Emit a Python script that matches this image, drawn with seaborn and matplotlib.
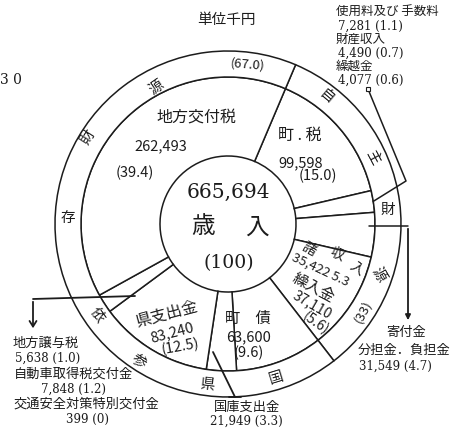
import numpy as np
import pandas as pd
import matplotlib
matplotlib.use("Agg")
import matplotlib.pyplot as plt
import seaborn as sns

# 歳入内訳 (単位千円), 上の境界から時計回り
items = ['町税', '使用料及び手数料', '財産収入', '繰越金', '寄付金', '分担金・負担金',
         '諸収入', '繰入金', '町債', '国庫支出金', '県支出金', '地方譲与税',
         '自動車取得税交付金', '交通安全対策特別交付金', '地方交付税']
amounts = [99598, 7281, 4490, 4077, 1000, 31549,
           35422, 37110, 63600, 21949, 83240, 5638,
           7848, 399, 262493]
pct_text = ['15.0', '1.1', '0.7', '0.6', '', '4.7',
            '5.3', '5.6', '9.6', '3.3', '12.5', '1.0',
            '1.2', '0', '39.4']
# items sharing a slice in the drawing (no dividing line between them)
wedge_no = [0, 1, 1, 1, 2, 2, 3, 3, 4, 5, 6, 7, 7, 7, 8]
source = ['自主財源'] * 8 + ['依存財源'] * 7
source_pct = {'自主財源': '(33)', '依存財源': '(67.0)'}

df = pd.DataFrame(dict(item=items, amount=amounts, pct=pct_text,
                       wedge=wedge_no, source=source))
wedges = df.groupby('wedge')['amount'].sum()
sources = df.groupby('source', sort=False)['amount'].sum()
total = df['amount'].sum()
lab = df.set_index('item')

sns.set_style("white")
plt.rcParams['font.family'] = ['DejaVu Serif', 'Noto Sans CJK JP']
JP = ['Noto Sans CJK JP', 'DejaVu Sans']
ink = '#1c1c1c'

fig = plt.figure(figsize=(4.52, 4.31), dpi=100)
ax = fig.add_axes([0, 0, 1, 1])
C = (228, 225)
START = 67  # degrees, top boundary between 地方交付税 and 町税
wp = dict(facecolor='white', edgecolor=ink, linewidth=1.1)

# y axis is inverted (image coords), so counterclock=True draws clockwise on screen
ax.pie(wedges.values, radius=147, center=C, startangle=-START, counterclock=True,
       wedgeprops=dict(width=79, **wp))
ax.pie(sources.values, radius=173, center=C, startangle=-START, counterclock=True,
       wedgeprops=dict(width=26, **wp))
ax.set_xlim(0, 452)
ax.set_ylim(431, 0)
ax.set_aspect('equal')
ax.axis('off')

cum = np.concatenate([[0], np.cumsum(wedges.values)]) / total


def polar(r, deg):
    a = np.radians(deg)
    return C[0] + r * np.cos(a), C[1] - r * np.sin(a)


def mid_angle(k):
    return START - 360 * (cum[k] + cum[k + 1]) / 2


def t(x, y, s, size, rot=0, fam=None, **kw):
    kw.setdefault('ha', 'center')
    ax.text(x, y, s, fontsize=size, rotation=rot, va='center', color=ink,
            family=fam or JP, rotation_mode='anchor', **kw)


def num(item):
    return f"{lab.loc[item, 'amount']:,}"


def pct(item):
    return f"({lab.loc[item, 'pct']})"


# header and stray text on the left edge
t(226, 20, '単位千円', 10.5)
t(0, 80, '3 0', 10, fam=['DejaVu Serif'], ha='left')

# centre
t(228, 192, f"{total:,}", 14.5, fam=['DejaVu Serif'])
t(203, 227, '歳', 17)
t(257, 227, '入', 17)
t(229, 263, '(100)', 13.5, fam=['DejaVu Serif'])

# outer ring
outer = [('国', 276, 378, 17), ('県', 207, 385, -7), ('参', 138, 362, -33),
         ('依', 97, 315, -55), ('存', 68, 218, 0), ('財', 88, 137, 58),
         ('源', 157, 88, 35), (source_pct['依存財源'], 248, 65, -5),
         ('自', 326, 97, -40), ('主', 373, 157, -62), ('財', 388, 210, 0),
         ('源', 378, 275, -60), (source_pct['自主財源'], 363, 312, 62)]
for s, x, y, r in outer:
    t(x, y, s, 10.5 if s[0] != '(' else 9.5, r)

# inner labels
t(196, 118, '地方交付税', 11.5)
t(161, 146, num('地方交付税'), 10.5)
t(135, 173, pct('地方交付税'), 10.5)

t(300, 135, '町 . 税', 11.5)
t(301, 163, num('町税'), 10.5)
t(318, 176, pct('町税'), 10.5)

for ch, x, y, r in [('諸', 309, 249, -30), ('収', 337, 254, -25), ('入', 357, 268, -35)]:
    t(x, y, ch, 10, r)
t(320, 270, f"{num('諸収入')} {lab.loc['諸収入', 'pct']}", 9.5, -25)

t(313, 288, '繰入金', 11, -28)
t(312, 305, num('繰入金'), 10, -30)
t(316, 323, pct('繰入金'), 10, -35)

t(248, 318, '町　債', 11)
t(249, 337, num('町債'), 10.5)
t(249, 353, pct('町債'), 10.5)

t(167, 314, '県支出金', 11.5, 15)
t(172, 333, num('県支出金'), 10.5, 15)
t(180, 347, pct('県支出金'), 10.5, 10)

# callout: small items top right
k1 = mid_angle(1)
p = polar(147, k1)
ax.plot([p[0], 406, 368], [p[1], 182, 90], color=ink, lw=1.1)
ax.plot([368], [90], marker='s', ms=3, mfc='white', mec=ink, mew=0.8)
y0 = 12
for it in ['使用料及び手数料', '財産収入', '繰越金']:
    t(336, y0, it.replace('及び', '及び '), 9, ha='left')
    t(338, y0 + 14, f"{num(it)} {pct(it)}", 8.5, fam=['DejaVu Serif'], ha='left')
    y0 += 27

# callout: 寄付金 / 分担金
ax.plot([369, 408], [227, 227], color=ink, lw=1.1)
ax.annotate('', xy=(408, 324), xytext=(408, 227),
            arrowprops=dict(arrowstyle='-|>,head_length=0.3,head_width=0.15',
                            color=ink, lw=1.3))
t(406, 333, '寄付金', 9.5)
t(358, 350, '分担金．負担金', 9.5, ha='left')
t(359, 366, f"{num('分担金・負担金')} {pct('分担金・負担金')}", 8.5,
  fam=['DejaVu Serif'], ha='left')

# callout: 国庫支出金
ax.plot([213, 235], [353, 398], color=ink, lw=1.3)
ax.plot([229, 241], [398, 398], color=ink, lw=1.3)
t(247, 407, '国庫支出金', 9.5)
t(246, 421, f"{num('国庫支出金')} {pct('国庫支出金')}", 8.5, fam=['DejaVu Serif'])

# callout: 地方譲与税 etc.
ax.plot([135, 33], [297, 300], color=ink, lw=1.3)
ax.annotate('', xy=(33, 332), xytext=(33, 300),
            arrowprops=dict(arrowstyle='->,head_length=0.4,head_width=0.25',
                            color=ink, lw=1.3))
t(13, 343, '地方譲与税', 9.5, ha='left')
t(15, 358, f"{num('地方譲与税')} {pct('地方譲与税')}", 8.5, fam=['DejaVu Serif'], ha='left')
t(74, 374, '自動車取得税交付金', 9.5)
t(74, 389, f"{num('自動車取得税交付金')} {pct('自動車取得税交付金')}", 8.5,
  fam=['DejaVu Serif'])
t(86, 404, '交通安全対策特別交付金', 9.5)
t(88, 419, f"{num('交通安全対策特別交付金')} {pct('交通安全対策特別交付金')}", 8.5,
  fam=['DejaVu Serif'])

plt.savefig('out.png', dpi=100, facecolor='white')
